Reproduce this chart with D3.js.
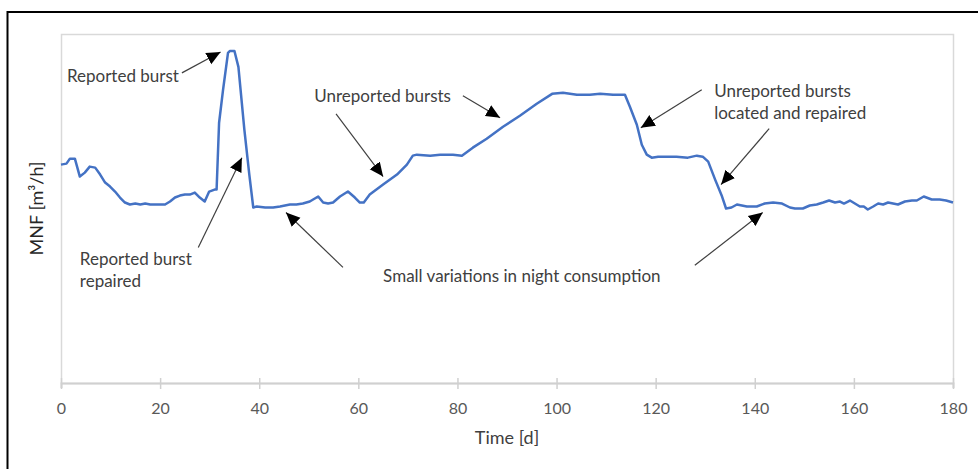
<!DOCTYPE html>
<html>
<head>
<meta charset="utf-8">
<script src="https://cdn.jsdelivr.net/npm/d3@7"></script>
<style>
  html, body { margin: 0; padding: 0; background: #fff; }
  svg { display: block; }
  text { font-family: Lato, "Open Sans", sans-serif; }
</style>
</head>
<body>
<svg id="chart" width="978" height="469"></svg>
<script>
// ---- data (time in days, MNF in m³/h, arbitrary scale) ----
const days = [0,1.1,1.8,2.8,3.8,4.8,5.8,6.9,7.9,8.9,9.9,10.9,11.9,12.9,13.9,15,16,17,18,19,21,22,23,24,25,26,27,28,29,29.9,31,31.4,31.9,32.7,33.7,34.1,35,35.8,37,38,38.8,39.5,41.2,42.8,44.2,46.2,47.5,48.8,50.2,51.9,52.9,53.9,54.9,56.3,57.9,59.3,60.3,61.1,62.3,65,67.8,69.8,71,71.8,74.5,76.5,79.1,80.9,83.1,85.9,89.2,92.6,96,99.1,101.3,104.1,106.7,108.8,111.4,113.8,114.8,116.2,117.2,118.2,119.2,120.5,122.2,124.2,126.5,128.3,129.5,130.6,132,133.4,134.2,135.3,136.4,138.4,140.4,142,143.7,145.5,147.1,148.1,149.7,151.1,152.5,153.8,155,156.2,157.2,158,159.2,160.2,161.2,162,162.8,163.9,164.9,165.9,166.9,167.9,168.9,170.3,171.7,172.7,174.1,175.7,177.3,178.6,180];
const mnf = [21.9,22.0,22.5,22.5,20.7,21.1,21.7,21.6,20.9,20.1,19.7,19.2,18.6,18.1,17.9,18.0,17.9,18.0,17.9,17.9,17.9,18.2,18.6,18.8,18.9,18.9,19.1,18.6,18.2,19.2,19.4,19.4,26.1,29.4,33.1,33.3,33.3,31.7,25.4,20.9,17.6,17.7,17.6,17.6,17.7,17.9,17.9,18.0,18.2,18.7,18.1,18.0,18.1,18.7,19.2,18.6,18.1,18.1,18.9,19.9,20.9,21.9,22.8,22.9,22.8,22.9,22.9,22.8,23.6,24.5,25.7,26.8,28.0,29.0,29.1,28.9,28.9,29.0,28.9,28.9,27.7,25.9,23.9,22.9,22.6,22.7,22.7,22.7,22.6,22.8,22.7,22.2,20.4,18.7,17.5,17.6,17.9,17.7,17.7,18.0,18.1,18.0,17.6,17.5,17.5,17.8,17.9,18.1,18.3,18.1,18.2,18.0,18.3,18.0,17.7,17.7,17.4,17.7,18.0,17.9,18.1,18.0,17.9,18.2,18.3,18.3,18.7,18.4,18.4,18.3,18.1];
const xTicks = [0,20,40,60,80,100,120,140,160,180];
const xTitle = "Time [d]";
const yTitle = "MNF [m³/h]";
// annotations: text lines and arrow (from -> to) in data units
const notes = [
  {lines:["Reported burst"], tx:1.2, ty:30.2, arrows:[[24.4,31.1,32.2,33.2]]},
  {lines:["Reported burst","repaired"], tx:3.8, ty:11.8, arrows:[[27.7,13.6,36.5,22.6]]},
  {lines:["Unreported bursts"], tx:51.1, ty:28.2, arrows:[[55.5,27.0,65.0,20.7],[81.1,28.8,88.6,26.6]]},
  {lines:["Unreported bursts","located and repaired"], tx:131.8, ty:28.7, arrows:[[129.3,29.4,117.0,25.6],[142.9,25.5,133.2,19.9]]},
  {lines:["Small variations in night consumption"], tx:65.0, ty:10.1, arrows:[[56.9,11.6,45.4,17.1],[127.9,11.8,141.6,17.1]]}
];

const W = 978, H = 469;
const m = {left: 61, right: 953, top: 34, bottom: 383};
const x = d3.scaleLinear().domain([0,180]).range([m.left, m.right]);
const y = d3.scaleLinear().domain([0,35]).range([m.bottom, m.top]);

const svg = d3.select("#chart");

// outer frame
svg.append("rect").attr("x",7.5).attr("y",12).attr("width",1100).attr("height",600)
  .attr("fill","none").attr("stroke","#000").attr("stroke-width",2);

// plot area border
svg.append("rect").attr("x",m.left+0.5).attr("y",m.top+0.5)
  .attr("width",m.right-m.left).attr("height",m.bottom-m.top)
  .attr("fill","none").attr("stroke","#D9D9D9").attr("stroke-width",1.5);

// x axis
const xAxis = d3.axisBottom(x).tickValues(xTicks).tickSize(5).tickPadding(15).tickFormat(d3.format("d"));
const gx = svg.append("g").attr("transform",`translate(0,${m.bottom})`).call(xAxis);
gx.select(".domain").attr("stroke","#D0D0D0").attr("stroke-width",2);
gx.selectAll(".tick line").attr("stroke","#D0D0D0").attr("stroke-width",1.5).attr("y1",-5).attr("y2",6);
gx.selectAll(".tick text").attr("fill","#595959").style("font-size","16px").style("font-family","Lato, sans-serif");

// axis titles
svg.append("text").attr("x",(m.left+m.right)/2).attr("y",444)
  .attr("text-anchor","middle").attr("fill","#404040").style("font-size","18px").text(xTitle);
svg.append("text").attr("transform",`translate(43,${(m.top+m.bottom)/2}) rotate(-90)`)
  .attr("text-anchor","middle").attr("fill","#262626").style("font-size","18px").text(yTitle);

// line
const line = d3.line().x((d,i)=>x(days[i])).y((d,i)=>y(mnf[i]));
svg.append("path").datum(mnf).attr("d",line).attr("fill","none")
  .attr("stroke","#4472C4").attr("stroke-width",2.5).attr("stroke-linejoin","round");

// arrowhead marker
svg.append("defs").append("marker").attr("id","arr").attr("viewBox","0 0 10 10")
  .attr("refX",10).attr("refY",5).attr("markerWidth",14).attr("markerHeight",14)
  .attr("markerUnits","userSpaceOnUse").attr("orient","auto")
  .append("path").attr("d","M0,0.5 L10,5 L0,9.5 Z").attr("fill","#000");

notes.forEach(n => {
  const t = svg.append("text").attr("x",x(n.tx)).attr("y",y(n.ty))
    .attr("fill","#404040").style("font-size","17px");
  n.lines.forEach((l,i) => t.append("tspan").attr("x",x(n.tx)).attr("dy", i===0 ? 0 : 22).text(l));
  n.arrows.forEach(a => {
    svg.append("line").attr("x1",x(a[0])).attr("y1",y(a[1])).attr("x2",x(a[2])).attr("y2",y(a[3]))
      .attr("stroke","#404040").attr("stroke-width",1.2).attr("marker-end","url(#arr)");
  });
});
</script>
</body>
</html>
